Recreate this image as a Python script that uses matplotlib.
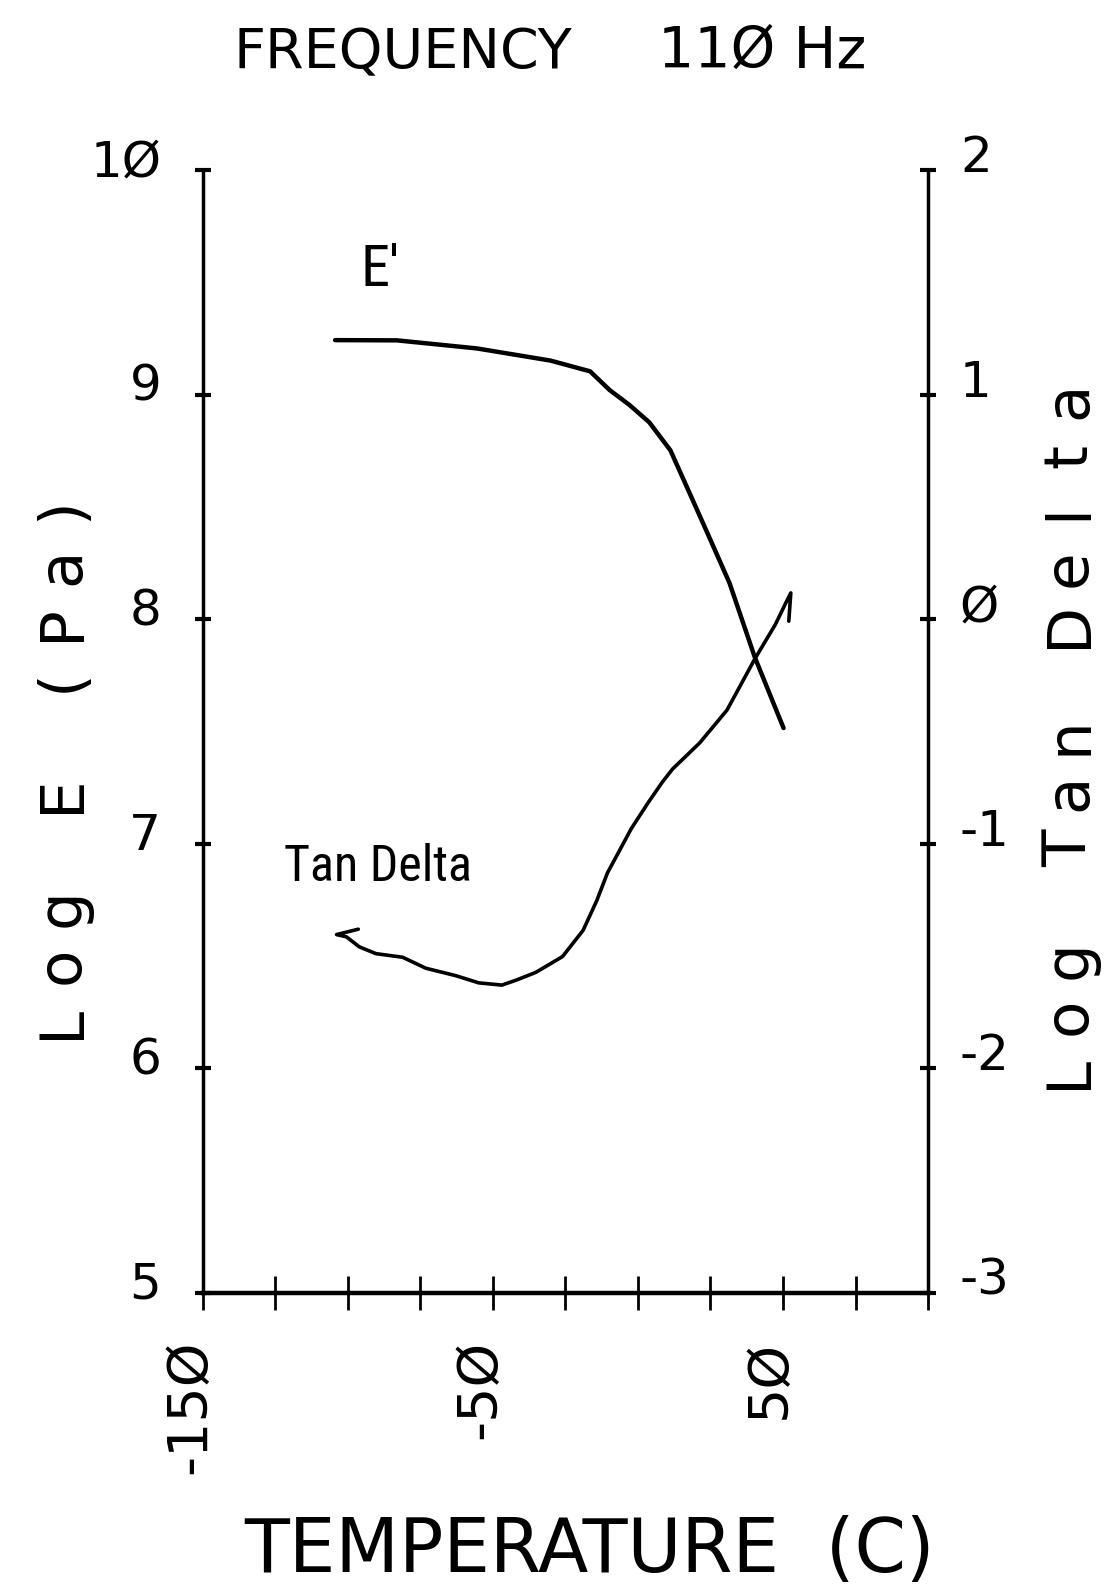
import matplotlib
matplotlib.use("Agg")
import matplotlib.pyplot as plt
import matplotlib.transforms as mtransforms
from matplotlib import font_manager

plt.rcParams["font.family"] = ["DejaVu Sans"]

# storage modulus: temperature (C) vs log E' (Pa)
temp_e = [-104.4, -83.1, -55.5, -30.2, -16.5, -9.7, -3.0, 3.9, 11.2, 17.2, 23.9, 31.6, 40.3, 50.2]
log_e = [9.243, 9.242, 9.206, 9.152, 9.104, 9.02, 8.955, 8.877, 8.752, 8.579, 8.385, 8.16, 7.83, 7.515]

# loss tangent: temperature (C) vs log tan delta
temp_tan = [-96.4, -103.9, -100.5, -96.0, -90.3, -81.1, -73.1, -62.8, -54.9, -46.9, -42.2,
            -35.3, -26.0, -18.9, -14.2, -10.5, -2.2, 3.7, 8.4, 11.9, 21.3, 30.7, 40.3,
            47.4, 51.0, 52.7, 52.0]
log_tan = [-1.381, -1.405, -1.415, -1.46, -1.49, -1.506, -1.555, -1.588, -1.62, -1.63, -1.609,
           -1.574, -1.503, -1.386, -1.254, -1.13, -0.931, -0.814, -0.726, -0.668, -0.551,
           -0.405, -0.177, -0.023, 0.073, 0.117, -0.009]

x_ticks = list(range(-150, 101, 25))
x_labels = {-150: "-15Ø", -50: "-5Ø", 50: "5Ø"}
e_ticks = [5, 6, 7, 8, 9, 10]
e_labels = ["5", "6", "7", "8", "9", "1Ø"]
tan_ticks = [-3, -2, -1, 0, 1, 2]
tan_labels = ["-3", "-2", "-1", "Ø", "1", "2"]

W, H = 1104, 1589
fig = plt.figure(figsize=(W / 100, H / 100), dpi=100)
ax = fig.add_axes([0.1837, 0.1865, 0.6569, 0.7064])
ax2 = ax.twinx()

ax.plot(temp_e, log_e, color="black", lw=3.2, solid_capstyle="round", solid_joinstyle="round")
ax2.plot(temp_tan, log_tan, color="black", lw=2.6, solid_capstyle="round", solid_joinstyle="round")

ax.set_xlim(-150, 100)
ax.set_ylim(5, 10)
ax2.set_ylim(-3, 2)

for s in ["top", "right"]:
    ax.spines[s].set_visible(False)
for s in ["top", "left", "bottom"]:
    ax2.spines[s].set_visible(False)
ax.spines["left"].set_linewidth(2.5)
ax.spines["bottom"].set_linewidth(3.2)
ax2.spines["right"].set_linewidth(2.5)

ax.set_xticks(x_ticks)
ax.set_xticklabels([x_labels.get(t, "") for t in x_ticks])
ax.set_yticks(e_ticks)
ax.set_yticklabels(e_labels)
ax2.set_yticks(tan_ticks)
ax2.set_yticklabels(tan_labels)

ax.tick_params(axis="x", direction="inout", length=24, width=2, pad=22,
               labelsize=40, labelrotation=90)
ax.tick_params(axis="y", direction="inout", length=12, width=3, pad=24, labelsize=36)
ax2.tick_params(axis="y", direction="inout", length=12, width=3, pad=17, labelsize=36)

# plotter labels sit a little above their ticks
up_left = mtransforms.ScaledTranslation(0, 0.13, fig.dpi_scale_trans)
up_right = mtransforms.ScaledTranslation(0, 0.17, fig.dpi_scale_trans)
shift_x = mtransforms.ScaledTranslation(-0.13, 0, fig.dpi_scale_trans)
for lab in ax.get_yticklabels():
    lab.set_transform(lab.get_transform() + up_left)
for lab in ax2.get_yticklabels():
    lab.set_transform(lab.get_transform() + up_right)
for lab in ax.get_xticklabels():
    lab.set_transform(lab.get_transform() + shift_x)


def spaced_label(x_px, y_px, text, pitch, size):
    # fixed-pitch vertical text, read bottom to top
    for i, ch in enumerate(text):
        if ch == " ":
            continue
        fig.text(x_px / W, 1 - (y_px - i * pitch) / H, ch, rotation=90,
                 rotation_mode="anchor", ha="center", va="baseline", fontsize=size)


spaced_label(79, 1022, "Log E (Pa)", 57, 44)
spaced_label(1086, 1072, "Log Tan Delta", 56, 44)

fig.text(403 / W, 1 - 68 / H, "FREQUENCY", ha="center", va="baseline", fontsize=40)
fig.text(762 / W, 1 - 68 / H, "11Ø Hz", ha="center", va="baseline", fontsize=41)
fig.text(590 / W, 1 - 1572 / H, "TEMPERATURE  (C)", ha="center", va="baseline", fontsize=53)

# condensed face for the curve names, if one is installed
names = {f.name for f in font_manager.fontManager.ttflist}
narrow = None
for cand in ["Liberation Sans Narrow", "DejaVu Sans Condensed", "Roboto Condensed"]:
    if cand in names:
        narrow = cand
        break
if narrow:
    fig.text(380 / W, 1 - 271 / H, "E'", ha="center", va="center", fontsize=42, family=narrow)
    fig.text(378 / W, 1 - 867 / H, "Tan Delta", ha="center", va="center", fontsize=36,
             family=narrow)
else:
    fig.text(380 / W, 1 - 271 / H, "E'", ha="center", va="center", fontsize=38)
    fig.text(378 / W, 1 - 867 / H, "Tan Delta", ha="center", va="center", fontsize=28)

fig.savefig("out.png", dpi=100, facecolor="white")
